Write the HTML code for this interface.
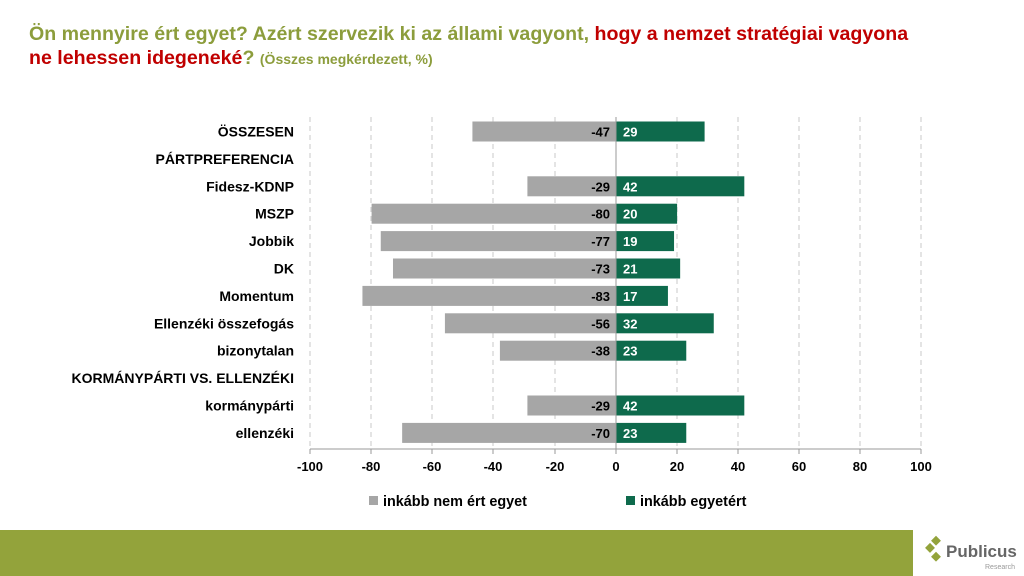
<!DOCTYPE html>
<html><head><meta charset="utf-8"><style>
body{margin:0;width:1024px;height:576px;background:#fff;overflow:hidden;font-family:"Liberation Sans",sans-serif;position:relative}
.t{position:absolute;left:29px;font-weight:bold;font-size:19.6px;line-height:24px}
</style></head><body>
<div class="t" style="top:22px;color:#8c9d3c">Ön mennyire ért egyet? Azért szervezik ki az állami vagyont, <span style="color:#c00000">hogy a nemzet stratégiai vagyona</span></div>
<div class="t" style="top:46px;color:#c00000">ne lehessen idegeneké<span style="color:#8c9d3c">? <span style="font-size:14px">(Összes megkérdezett, %)</span></span></div>
<svg width="1024" height="576" style="position:absolute;left:0;top:0" font-family="Liberation Sans, sans-serif" font-weight="bold">
<g stroke="#c8c8c8" stroke-dasharray="5,4" stroke-width="1">
<line x1="371" y1="117" x2="371" y2="449"/><line x1="432" y1="117" x2="432" y2="449"/><line x1="493" y1="117" x2="493" y2="449"/><line x1="555" y1="117" x2="555" y2="449"/><line x1="677" y1="117" x2="677" y2="449"/><line x1="738" y1="117" x2="738" y2="449"/><line x1="799" y1="117" x2="799" y2="449"/><line x1="860" y1="117" x2="860" y2="449"/><line x1="921" y1="117" x2="921" y2="449"/><line x1="310" y1="117" x2="310" y2="449"/>
</g>
<g id="bars"></g>
<line x1="310" y1="449" x2="921" y2="449" stroke="#999"/>
<line x1="616" y1="117" x2="616" y2="449" stroke="#999"/>
<g stroke="#999"><line x1="310" y1="449" x2="310" y2="454"/><line x1="371" y1="449" x2="371" y2="454"/><line x1="432" y1="449" x2="432" y2="454"/><line x1="493" y1="449" x2="493" y2="454"/><line x1="555" y1="449" x2="555" y2="454"/><line x1="616" y1="449" x2="616" y2="454"/><line x1="677" y1="449" x2="677" y2="454"/><line x1="738" y1="449" x2="738" y2="454"/><line x1="799" y1="449" x2="799" y2="454"/><line x1="860" y1="449" x2="860" y2="454"/><line x1="921" y1="449" x2="921" y2="454"/></g>
<g font-size="13" text-anchor="middle" fill="#000">
<text x="310" y="471">-100</text><text x="371" y="471">-80</text><text x="432" y="471">-60</text><text x="493" y="471">-40</text><text x="555" y="471">-20</text><text x="616" y="471">0</text><text x="677" y="471">20</text><text x="738" y="471">40</text><text x="799" y="471">60</text><text x="860" y="471">80</text><text x="921" y="471">100</text>
</g>
<rect x="369" y="496" width="9" height="9" fill="#a6a6a6"/><text x="383" y="506" font-size="14.4">inkább nem ért egyet</text>
<rect x="626" y="496" width="9" height="9" fill="#0e6a4c"/><text x="640" y="506" font-size="14.4">inkább egyetért</text>
<rect x="0" y="530" width="913" height="46" fill="#93a33b"/>
<g transform="translate(930,550)">
<rect x="-5" y="-5" width="7" height="7" fill="#93a33b" transform="rotate(45)"/>
<rect x="3" y="-13" width="7" height="7" fill="#93a33b" transform="rotate(45 6 -10)"/>
<rect x="3" y="3" width="7" height="7" fill="#93a33b" transform="rotate(45 6 6)"/>
</g>
<text x="946" y="557" font-size="17" fill="#666">Publicus</text>
<text x="985" y="569" font-size="7" fill="#999" font-weight="normal">Research</text>
</svg>
<script>
var rows=[["ÖSSZESEN",-47,29],["PÁRTPREFERENCIA"],["Fidesz-KDNP",-29,42],["MSZP",-80,20],["Jobbik",-77,19],["DK",-73,21],["Momentum",-83,17],["Ellenzéki összefogás",-56,32],["bizonytalan",-38,23],["KORMÁNYPÁRTI VS. ELLENZÉKI"],["kormánypárti",-29,42],["ellenzéki",-70,23]];
var s="",k=3.055;
rows.forEach(function(r,i){var c=131.5+i*27.4;
s+='<text x="294" y="'+(c+5)+'" font-size="14" text-anchor="end">'+r[0]+'</text>';
if(r.length>1){var wn=-r[1]*k,wp=r[2]*k;
s+='<rect x="'+(616-wn)+'" y="'+(c-10)+'" width="'+wn+'" height="20" fill="#a6a6a6"/>';
s+='<rect x="616" y="'+(c-10)+'" width="'+wp+'" height="20" fill="#0e6a4c"/>';
s+='<text x="610" y="'+(c+5)+'" font-size="13" text-anchor="end">'+r[1]+'</text>';
s+='<text x="623" y="'+(c+5)+'" font-size="13" fill="#fff">'+r[2]+'</text>';}});
document.getElementById("bars").innerHTML=s;
</script>
</body></html>
